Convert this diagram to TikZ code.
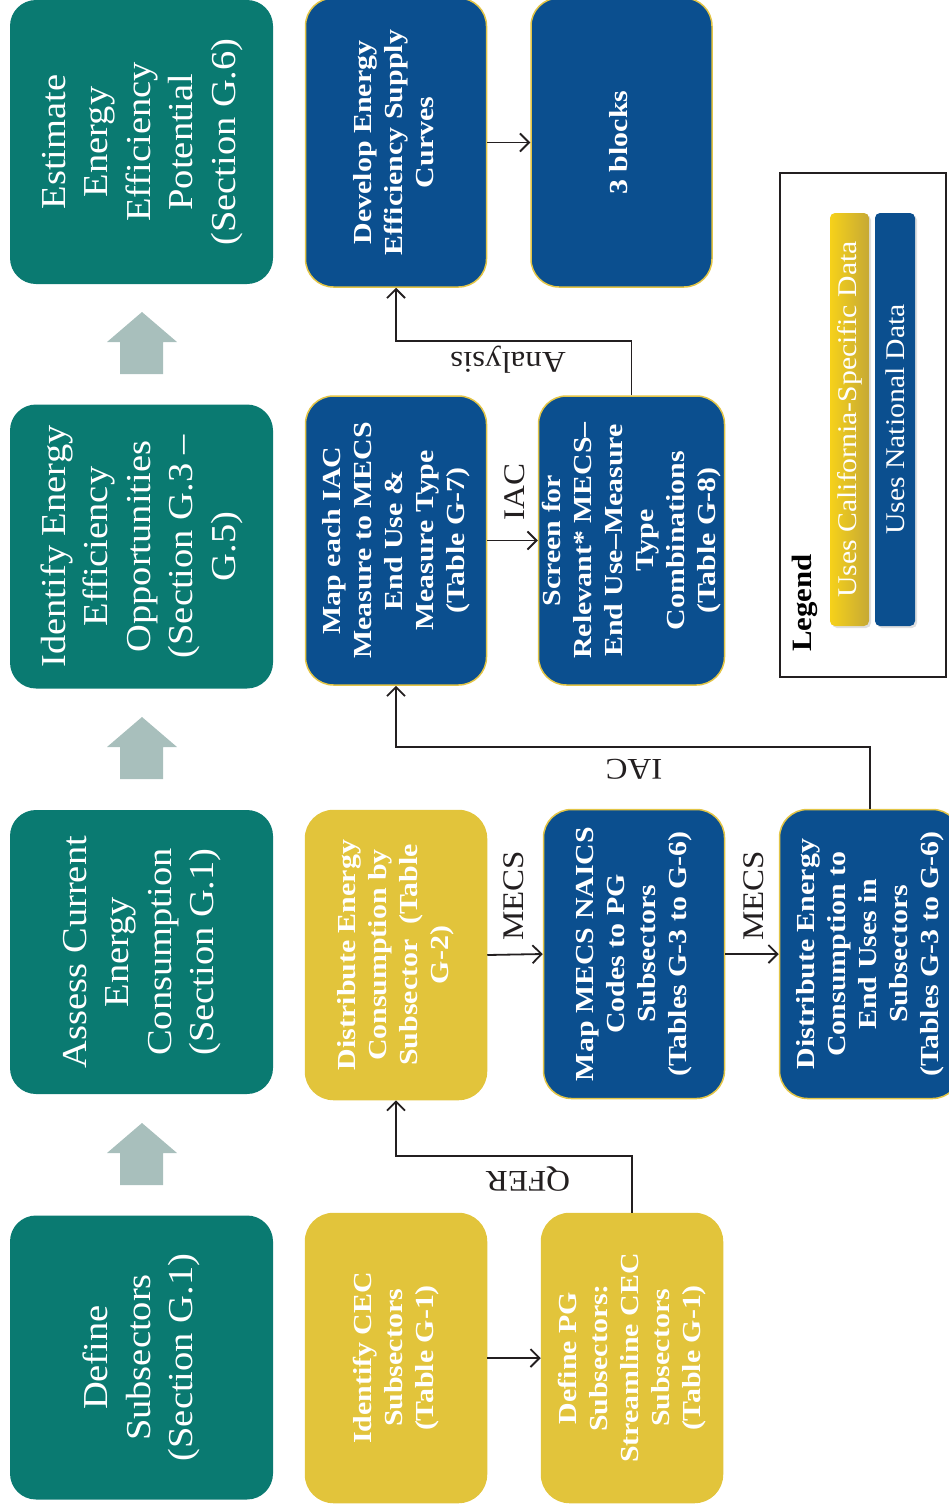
\documentclass[tikz,border=0pt]{standalone}
\usepackage{fontspec}
\setmainfont{Liberation Serif}[FakeStretch=1.1]
\newfontfamily\boxfont{Liberation Serif}[FakeStretch=1.15, Ligatures=TeX]
\usepackage{graphicx}
\usetikzlibrary{arrows.meta,shadows}
\definecolor{tealc}{HTML}{0A7A71}
\definecolor{bluec}{HTML}{0B4F8F}
\definecolor{yelc}{HTML}{E2C43B}
\definecolor{bordc}{HTML}{E3C546}
\definecolor{grayarr}{HTML}{A8BFBC}
\definecolor{linec}{HTML}{231F20}
\definecolor{goldL}{HTML}{F6D11A}
\definecolor{goldR}{HTML}{C6A935}
\newcommand{\vt}[1]{\rotatebox{90}{\begin{tabular}{@{}c@{}}#1\end{tabular}}}
\begin{document}
\begin{tikzpicture}[x=1pt,y=-1pt,
  phase/.style={fill=tealc, rounded corners=26pt, minimum width=263pt, minimum height=284pt,
    inner sep=0pt, text=white, font=\fontsize{35}{42.5}\selectfont},
  natbox/.style={fill=bluec, draw=bordc, line width=1.5pt, rounded corners=28pt,
    minimum width=181pt, minimum height=289pt, inner sep=0pt, text=white,
    font=\boxfont\bfseries\fontsize{26}{31}\selectfont},
  cabox/.style={natbox, fill=yelc, draw=yelc},
  arr/.style={draw=linec, line width=1.8pt, -{Straight Barb[length=9pt,width=18pt]}},
  lbl/.style={font=\fontsize{30}{36}\selectfont, text=linec, inner sep=0pt},
  uparrow/.style={fill=grayarr, draw=none}
]
\useasboundingbox (0,0) rectangle (948,1512);

% phase boxes
\node[phase] (p4) at (141.5,142) {\vt{Estimate\\Energy\\Efficiency\\Potential\\(Section G.6)}};
\node[phase] (p3) at (141.5,546.5) {\vt{Identify Energy\\Efficiency\\Opportunities\\(Section G.3 –\\G.5)}};
\node[phase] (p2) at (141.5,952) {\vt{Assess Current\\Energy\\Consumption\\(Section G.1)}};
\node[phase] (p1) at (141.5,1357.5) {\vt{Define\\Subsectors\\(Section G.1)}};

% gray up arrows
\foreach \t in {312,717,1123}{
  \fill[uparrow] (107,\t+30) -- (142,\t) -- (177,\t+30) -- (163,\t+30) -- (163,\t+62)
     -- (120,\t+62) -- (120,\t+30) -- cycle;
}

% step boxes
\node[natbox] (dev) at (396,142.5) {\vt{Develop Energy\\Efficiency Supply\\Curves}};
\node[natbox] (blk) at (621.5,142.5) {\vt{3 blocks}};
\node[natbox] (mapiac) at (396,540.5) {\vt{Map each IAC\\Measure to MECS\\End Use \&\\Measure Type\\(Table G-7)}};
\node[natbox] (screen) at (631.5,540.5) {\vt{Screen for\\Relevant* MECS–\\End Use–Measure\\Type\\Combinations\\(Table G-8)}};
\node[cabox] (distsub) at (396,955) {\vt{Distribute Energy\\Consumption by\\Subsector\ \ (Table\\G-2)}};
\node[natbox] (mapmecs) at (634,954) {\vt{Map MECS NAICS\\Codes to PG\\Subsectors\\(Tables G-3 to G-6)}};
\node[natbox] (distend) at (870,954) {\vt{Distribute Energy\\Consumption to\\End Uses in\\Subsectors\\(Tables G-3 to G-6)}};
\node[cabox] (ident) at (396,1358) {\vt{Identify CEC\\Subsectors\\(Table G-1)}};
\node[cabox] (defpg) at (632,1358) {\vt{Define PG\\Subsectors:\\Streamline CEC\\Subsectors\\(Table G-1)}};

% connectors
\draw[arr] (ident.east) -- (defpg.west);
\draw[arr] (defpg.north) -- ++(0,-57) -| (distsub.south);
\draw[arr] (distsub.east) -- (mapmecs.west);
\draw[arr] (mapmecs.east) -- (distend.west);
\draw[arr] (distend.north) -- ++(0,-62) -| (mapiac.south);
\draw[arr] (mapiac.east) -- (screen.west);
\draw[arr] (screen.north) -- ++(0,-54) -| (dev.south);
\draw[arr] (dev.east) -- (blk.west);

% connector labels
\node[lbl, rotate=180] (lq) at (528,1179) {QFER};
\node[lbl, rotate=90] (lm1) at (514,896) {MECS};
\node[lbl, rotate=90] (lm2) at (754,896) {MECS};
\node[lbl, rotate=180] (li2) at (634,769) {IAC};
\node[lbl, rotate=90] (li1) at (515,492) {IAC};
\node[lbl, rotate=180] (la) at (508,360) {Analysis};

% legend
\node[draw=linec, line width=1.5pt, minimum width=166pt, minimum height=504pt, inner sep=0pt] (legend) at (863,425) {};
\node[font=\bfseries\fontsize{28}{34}\selectfont, inner sep=0pt, rotate=90] (legt) at (805,603) {Legend};
\node[left color=goldL, right color=goldR, rounded corners=5pt, minimum width=39pt, minimum height=413pt,
  inner sep=0pt, text=white, font=\fontsize{27}{31}\selectfont,
  drop shadow={opacity=0.25, shadow xshift=2pt, shadow yshift=-2pt}] (legca) at (849.5,419.5)
  {\rotatebox{90}{Uses California-Specific Data}};
\node[fill=bluec, rounded corners=5pt, minimum width=40pt, minimum height=413pt,
  inner sep=0pt, text=white, font=\fontsize{27}{31}\selectfont,
  drop shadow={opacity=0.25, shadow xshift=2pt, shadow yshift=-2pt}] (legnat) at (895,419.5)
  {\rotatebox{90}{Uses National Data}};
\end{tikzpicture}
\end{document}
